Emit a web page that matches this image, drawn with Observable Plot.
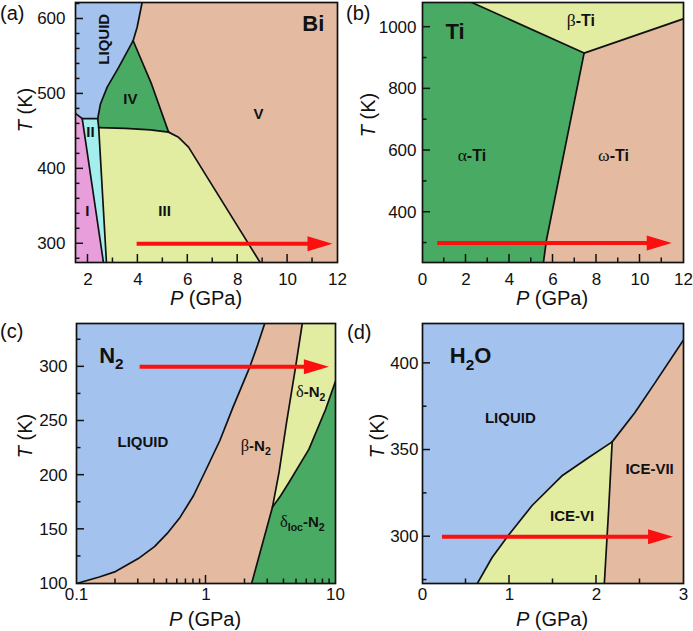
<!DOCTYPE html>
<html><head><meta charset="utf-8">
<script src="https://cdn.jsdelivr.net/npm/d3@7"></script>
<script src="https://cdn.jsdelivr.net/npm/@observablehq/plot@0.6"></script>
<style>
body{margin:0;background:#fff;}
#wrap{position:relative;width:693px;height:631px;overflow:hidden;font-family:"Liberation Sans",Arial,sans-serif;}
.panel{position:absolute;}
#overlay{position:absolute;left:0;top:0;pointer-events:none;font-family:"Liberation Sans",Arial,sans-serif;fill:#111;}
</style></head><body>
<div id="wrap">
  <div class="panel" id="pa" style="left:0;top:0"></div>
  <div class="panel" id="pb" style="left:346px;top:0"></div>
  <div class="panel" id="pc" style="left:0;top:315px"></div>
  <div class="panel" id="pd" style="left:346px;top:315px"></div>
  <svg id="overlay" width="693" height="631">
    <g font-size="20">
      <text x="0" y="20">(a)</text>
      <text x="346" y="20">(b)</text>
      <text x="0" y="338">(c)</text>
      <text x="347" y="339">(d)</text>
      <text x="206" y="305" text-anchor="middle"><tspan font-style="italic">P</tspan> (GPa)</text>
      <text x="552" y="305" text-anchor="middle"><tspan font-style="italic">P</tspan> (GPa)</text>
      <text x="205" y="626" text-anchor="middle"><tspan font-style="italic">P</tspan> (GPa)</text>
      <text x="552" y="626" text-anchor="middle"><tspan font-style="italic">P</tspan> (GPa)</text>
      <text transform="translate(32,110) rotate(-90)" text-anchor="middle"><tspan font-style="italic">T</tspan> (K)</text>
      <text transform="translate(375,115) rotate(-90)" text-anchor="middle"><tspan font-style="italic">T</tspan> (K)</text>
      <text transform="translate(32,436) rotate(-90)" text-anchor="middle"><tspan font-style="italic">T</tspan> (K)</text>
      <text transform="translate(384,436) rotate(-90)" text-anchor="middle"><tspan font-style="italic">T</tspan> (K)</text>
    </g>
  </svg>
</div>
<script>
// ---------- colours ----------
const BLUE = "#a4c2ee", TAN = "#e4bba1", YEL = "#e2eda1", GREEN = "#49ab63", PINK = "#e99edc", CYAN = "#a4eeee", RED = "#fb0f0f", INK = "#111";

// ---------- (a) Bi : boundaries [P (GPa), T (K)] ----------
const biLiq_V   = [[4.17,622],[3.97,589],[3.81,571]];
const biLiq_IV  = [[3.81,571],[3.23,535.5],[2.77,509],[2.5,486.5],[2.39,467]];
const biIV_V    = [[3.81,571],[4.55,513],[5.23,449]];
const biIV_III  = [[2.43,455],[3.5,454],[4.5,452],[5.23,449]];
const biIII_V   = [[5.23,449],[5.63,442],[6.03,429],[6.7,393],[8.9,275]];
const biLiq_II  = [[1.77,467],[2.39,467]];
const biII_IV   = [[2.39,467],[2.43,455]];
const biLiq_I   = [[1.5,474],[1.77,467]];
const biI_II    = [[1.77,467],[2.62,275]];
const biII_III  = [[2.43,455],[2.74,275]];
const biLabels  = [{t:"LIQUID",P:2.63,T:573,r:-90},{t:"IV",P:3.7,T:493},{t:"V",P:8.83,T:473},{t:"II",P:2.1,T:449},{t:"I",P:1.97,T:343},{t:"III",P:5.07,T:343}];
const biTitle   = {t:"Bi",P:11.03,T:593};
const biArrow   = {P:[3.97,11.8],T:300};
const biXMajor = [2,4,6,8,10], biXMinor = [3,5,7,9,11];
const biYMajor = [300,400,500,600], biYMinor = [280,320,340,360,380,420,440,460,480,520,540,560,580,620];

// ---------- (b) Ti ----------
const tiA_B = [[2.27,1080],[7.43,916]];
const tiB_W = [[7.43,916],[12,1027]];
const tiA_W = [[7.43,916],[5.7,310],[5.56,237]];
const tiLabels = [{t:"β-Ti",P:7.28,T:1019},{t:"α-Ti",P:2.27,T:584},{t:"ω-Ti",P:8.78,T:584}];
const tiTitle  = {t:"Ti",P:1.5,T:984};
const tiArrow  = {P:[0.7,11.46],T:300};
const tiXMajor = [2,4,6,8,10], tiXMinor = [1,3,5,7,9,11];
const tiYMajor = [400,600,800,1000], tiYMinor = [300,500,700,900];

// ---------- (c) N2 ----------
const n2Liq_B  = [[0.1,100],[0.15,106],[0.2,111],[0.3,123],[0.4,134],[0.5,146],[0.63,161],[0.8,181],[1.0,205],[1.28,232],[1.62,263],[2.18,300],[2.5,320],[2.84,340]];
const n2B_D    = [[5.54,340],[4.92,300],[4.18,248],[3.67,203],[3.26,170.5]];
const n2B_Dl   = [[3.26,170.5],[2.25,100]];
const n2D_Dl   = [[3.26,170.5],[3.77,181],[4.38,193.4],[6.24,224],[8.38,260.6],[10,286.6]];
const n2Labels = [{t:"LIQUID",P:0.326,T:230},{t:"β-N_2",P:2.42,T:227},{t:"δ-N_2",P:6.43,T:277},{t:"δ_loc-N_2",P:5.54,T:157}];
const n2Title  = {t:"N_2",P:0.186,T:310};
const n2Arrow  = {P:[0.31,8.89],T:300};
const n2XMajor = [1], n2XMinor = [0.2,0.3,0.4,0.5,0.6,0.7,0.8,0.9,2,3,4,5,6,7,8,9];
const n2YMajor = [150,200,250,300], n2YMinor = [125,175,225,275,325];

// ---------- (d) H2O ----------
const h2oLiq_VI  = [[0.63,273],[0.8,288],[0.99,301],[1.26,318],[1.6,335],[1.91,345.7],[2.18,354.7]];
const h2oLiq_VII = [[2.18,354.7],[2.44,371.5],[2.67,388.6],[3,413.5]];
const h2oVI_VII  = [[2.18,354.7],[2.14,316],[2.09,273]];
const h2oLabels  = [{t:"LIQUID",P:1.01,T:368.6},{t:"ICE-VI",P:1.72,T:312},{t:"ICE-VII",P:2.61,T:339}];
const h2oTitle   = {t:"H_2O",P:0.553,T:404};
const h2oArrow   = {P:[0.23,2.88],T:300};
const h2oXMajor = [1,2], h2oXMinor = [0.5,1.5,2.5];
const h2oYMajor = [300,350,400], h2oYMinor = [275,325,375];

// ---------- helpers ----------
const rev = a => a.slice().reverse();
const chain = (...parts) => parts.flat();
const headSymbol = {draw(ctx){ ctx.moveTo(0,0); ctx.lineTo(-25,-7.5); ctx.lineTo(-25,7.5); ctx.closePath(); }};
const NS = "http://www.w3.org/2000/svg";

function richify(svg) {
  svg.querySelectorAll('g[aria-label="text"] text').forEach(t => {
    const s = t.textContent;
    if (!/[_\u0370-\u03ff]/.test(s)) return;
    const g = t.closest("g[font-size]");
    const fs = g ? parseFloat(g.getAttribute("font-size")) : 15;
    const tokens = s.match(/_[a-z0-9]+|[\u0370-\u03ff]|[^_\u0370-\u03ff]+/g);
    while (t.firstChild) t.removeChild(t.firstChild);
    let shifted = false;
    for (const tok of tokens) {
      const ts = document.createElementNS(NS, "tspan");
      if (tok[0] === "_") {
        ts.textContent = tok.slice(1);
        ts.setAttribute("font-size", fs * 0.7);
        if (!shifted) ts.setAttribute("dy", fs * 0.28);
        shifted = true;
      } else {
        ts.textContent = tok;
        if (shifted) { ts.setAttribute("dy", -fs * 0.28); shifted = false; }
        if (/[\u0370-\u03ff]/.test(tok)) {
          ts.setAttribute("font-weight", "normal");
          ts.setAttribute("font-family", "'Liberation Serif','DejaVu Serif',serif");
          ts.setAttribute("font-size", fs * 1.1);
        }
      }
      t.appendChild(ts);
    }
  });
}

// inward ticks drawn with the plot's own scales
function addTicks(svg, o) {
  const sx = svg.scale("x"), sy = svg.scale("y");
  const yb = sy.apply(o.yDomain[0]), xl = sx.apply(o.xDomain[0]);
  const g = d3.select(svg).append("g").attr("aria-label", "inner ticks")
    .attr("stroke", INK).attr("stroke-width", 1.5);
  const xt = (vals, len) => vals.forEach(v => g.append("line")
    .attr("x1", sx.apply(v)).attr("x2", sx.apply(v)).attr("y1", yb).attr("y2", yb - len));
  const yt = (vals, len) => vals.forEach(v => g.append("line")
    .attr("y1", sy.apply(v)).attr("y2", sy.apply(v)).attr("x1", xl).attr("x2", xl + len));
  xt(o.xMajor, 8); xt(o.xMinor, 4.5); yt(o.yMajor, 8); yt(o.yMinor, 4.5);
}

function makePanel(id, o) {
  const fmt = d => String(d);
  const plot = Plot.plot({
    width: o.width, height: o.height,
    marginTop: o.mt, marginBottom: o.mb, marginLeft: o.ml, marginRight: o.mr,
    style: {fontSize: "17px", fontFamily: '"Liberation Sans", Arial, sans-serif', color: INK, background: "transparent", overflow: "visible"},
    x: {type: o.xType || "linear", domain: o.xDomain, ticks: o.xTicks, tickFormat: fmt, tickSize: 0, tickPadding: o.xPad, label: null},
    y: {domain: o.yDomain, ticks: o.yTicks, tickFormat: fmt, tickSize: 0, tickPadding: o.yPad, label: null},
    marks: [
      Plot.frame({fill: o.bg, stroke: "none"}),
      ...o.regions.map(([pts, c]) => Plot.line(pts, {fill: c, stroke: "none", clip: true})),
      ...o.bounds.map(b => Plot.line(b, {stroke: INK, strokeWidth: 1.7, clip: true})),
      Plot.ruleY([o.arrow], {y: "T", x1: d => d.P[0], x2: d => d.P[1], insetRight: 20, stroke: RED, strokeWidth: 4}),
      Plot.dot([o.arrow], {x: d => d.P[1], y: "T", symbol: headSymbol, fill: RED, stroke: "none"}),
      Plot.text(o.labels, {x: "P", y: "T", text: "t", rotate: d => d.r || 0, fontSize: o.labelSize, fontWeight: "bold", fill: INK}),
      Plot.text([o.title], {x: "P", y: "T", text: "t", fontSize: 22, fontWeight: "bold", fill: INK}),
      Plot.frame({stroke: INK, strokeWidth: 1.7})
    ]
  });
  richify(plot);
  addTicks(plot, o);
  document.getElementById(id).appendChild(plot);
}

// (a)
makePanel("pa", {
  width: 346, height: 310, mt: 2, mb: 48, ml: 75, mr: 9,
  xDomain: [1.5, 12], yDomain: [275, 622], xTicks: [2,4,6,8,10,12], yTicks: biYMajor, xPad: 10, yPad: 10,
  bg: TAN,
  regions: [
    [chain([[1.5,622]], biLiq_V, biLiq_IV.slice(1), [[1.77,467],[1.5,474]]), BLUE],
    [chain(biIV_V, rev(biIV_III), [[2.39,467]], rev(biLiq_IV)), GREEN],
    [chain(biIV_III, biIII_V.slice(1), [[2.74,275]]), YEL],
    [chain(biLiq_II, [[2.43,455],[2.74,275],[2.62,275]]), CYAN],
    [chain(biLiq_I, [[2.62,275],[1.5,275]]), PINK]
  ],
  bounds: [biLiq_V, biLiq_IV, biIV_V, biIV_III, biIII_V, biLiq_II, biII_IV, biLiq_I, biI_II, biII_III],
  xMajor: biXMajor, xMinor: biXMinor, yMajor: biYMajor, yMinor: biYMinor,
  arrow: biArrow, labels: biLabels, title: biTitle, labelSize: 15
});

// (b)
makePanel("pb", {
  width: 347, height: 310, mt: 2, mb: 48, ml: 76, mr: 10,
  xDomain: [0, 12], yDomain: [237, 1080], xTicks: [0,2,4,6,8,10,12], yTicks: tiYMajor, xPad: 10, yPad: 6,
  bg: TAN,
  regions: [
    [chain([[0,237],[0,1080]], tiA_B, tiA_W.slice(1)), GREEN],
    [chain(tiA_B, tiB_W.slice(1), [[12,1080]]), YEL]
  ],
  bounds: [tiA_B, tiB_W, tiA_W],
  xMajor: tiXMajor, xMinor: tiXMinor, yMajor: tiYMajor, yMinor: tiYMinor,
  arrow: tiArrow, labels: tiLabels, title: tiTitle, labelSize: 16
});

// (c)
makePanel("pc", {
  width: 346, height: 316, mt: 8, mb: 48, ml: 76, mr: 11,
  xType: "log", xDomain: [0.1, 10], yDomain: [100, 340], xTicks: [0.1,1,10], yTicks: [100,150,200,250,300], xPad: 4, yPad: 9,
  bg: TAN,
  regions: [
    [chain(n2Liq_B, [[0.1,340]]), BLUE],
    [chain(n2B_D, n2D_Dl.slice(1), [[10,340]]), YEL],
    [chain(n2D_Dl, [[10,100],[2.25,100]]), GREEN]
  ],
  bounds: [n2Liq_B, n2B_D, n2B_Dl, n2D_Dl],
  xMajor: n2XMajor, xMinor: n2XMinor, yMajor: n2YMajor, yMinor: n2YMinor,
  arrow: n2Arrow, labels: n2Labels, title: n2Title, labelSize: 15
});

// (d)
makePanel("pd", {
  width: 347, height: 316, mt: 8, mb: 48, ml: 76, mr: 10,
  xDomain: [0, 3], yDomain: [273, 423], xTicks: [0,1,2,3], yTicks: [300,350,400], xPad: 4, yPad: 4,
  bg: BLUE,
  regions: [
    [chain(h2oLiq_VI, h2oVI_VII.slice(1)), YEL],
    [chain(h2oLiq_VII, [[3,273]], rev(h2oVI_VII)), TAN]
  ],
  bounds: [h2oLiq_VI, h2oLiq_VII, h2oVI_VII],
  xMajor: h2oXMajor, xMinor: h2oXMinor, yMajor: h2oYMajor, yMinor: h2oYMinor,
  arrow: h2oArrow, labels: h2oLabels, title: h2oTitle, labelSize: 15
});
</script>
</body></html>
